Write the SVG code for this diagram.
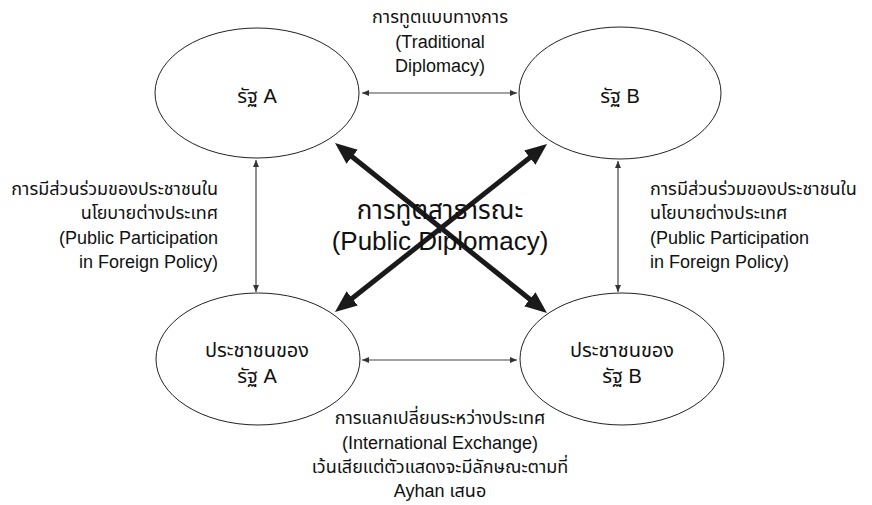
<svg xmlns="http://www.w3.org/2000/svg" width="872" height="505" viewBox="0 0 872 505">
<style>
.node ellipse{fill:#fff;stroke:#222;stroke-width:1}
text{font-family:"Liberation Sans","Noto Sans Thai","Noto Sans",sans-serif;font-size:18px;fill:#111}
.node text{font-size:20px}
.c{text-anchor:middle}
.r{text-anchor:end}
.big{font-size:26px}
.thin{stroke:#444;stroke-width:1.2;fill:none;marker-start:url(#ah);marker-end:url(#ah)}
.thick{stroke:#1a1a1a;stroke-width:5;fill:none;marker-start:url(#bh);marker-end:url(#bh)}
</style>
<defs>
<marker id="ah" markerUnits="userSpaceOnUse" markerWidth="8" markerHeight="8" refX="7" refY="3" orient="auto-start-reverse"><path d="M0,0 L7,3 L0,6 z" fill="#333"/></marker>
<marker id="bh" markerUnits="userSpaceOnUse" markerWidth="24" markerHeight="20" refX="12" refY="9" orient="auto-start-reverse"><path d="M0,0 L22,9 L0,18 z" fill="#1a1a1a"/></marker>
</defs>
<rect width="872" height="505" fill="#fff"/>
<g id="stateA" class="node"><ellipse cx="257" cy="93" rx="102" ry="65"/><text class="c" x="257" y="103">รัฐ A</text></g>
<g id="stateB" class="node"><ellipse cx="620" cy="93" rx="101" ry="66"/><text class="c" x="620" y="103">รัฐ B</text></g>
<g id="peopleA" class="node"><ellipse cx="258" cy="359" rx="102" ry="66"/><text class="c" x="257" y="357">ประชาชนของ</text><text class="c" x="257" y="383">รัฐ A</text></g>
<g id="peopleB" class="node"><ellipse cx="622" cy="359" rx="102" ry="66"/><text class="c" x="622" y="357">ประชาชนของ</text><text class="c" x="622" y="383">รัฐ B</text></g>
<g id="connectors">
<line class="thin" x1="362" y1="93" x2="517" y2="93"/>
<line class="thin" x1="362" y1="360" x2="517" y2="360"/>
<line class="thin" x1="256" y1="160" x2="256" y2="292"/>
<line class="thin" x1="618" y1="161" x2="618" y2="292"/>
<line class="thick" x1="342.8" y1="149.3" x2="539.2" y2="306.7"/>
<line class="thick" x1="539.2" y1="150.2" x2="342.8" y2="305.8"/>
</g>
<g id="labels">
<text class="c" x="440" y="23">การทูตแบบทางการ</text>
<text class="c" x="440" y="48">(Traditional</text>
<text class="c" x="440" y="72">Diplomacy)</text>
<text class="r" x="218" y="195">การมีส่วนร่วมของประชาชนใน</text>
<text class="r" x="218" y="219">นโยบายต่างประเทศ</text>
<text class="r" x="218" y="244">(Public Participation</text>
<text class="r" x="218" y="268">in Foreign Policy)</text>
<text x="650" y="195">การมีส่วนร่วมของประชาชนใน</text>
<text x="650" y="219">นโยบายต่างประเทศ</text>
<text x="650" y="244">(Public Participation</text>
<text x="650" y="268">in Foreign Policy)</text>
<text class="c big" x="440" y="219">การทูตสาธารณะ</text>
<text class="c big" x="440" y="250">(Public Diplomacy)</text>
<text class="c" x="440" y="424">การแลกเปลี่ยนระหว่างประเทศ</text>
<text class="c" x="440" y="449">(International Exchange)</text>
<text class="c" x="440" y="473">เว้นเสียแต่ตัวแสดงจะมีลักษณะตามที่</text>
<text class="c" x="440" y="497">Ayhan เสนอ</text>
</g>
</svg>
